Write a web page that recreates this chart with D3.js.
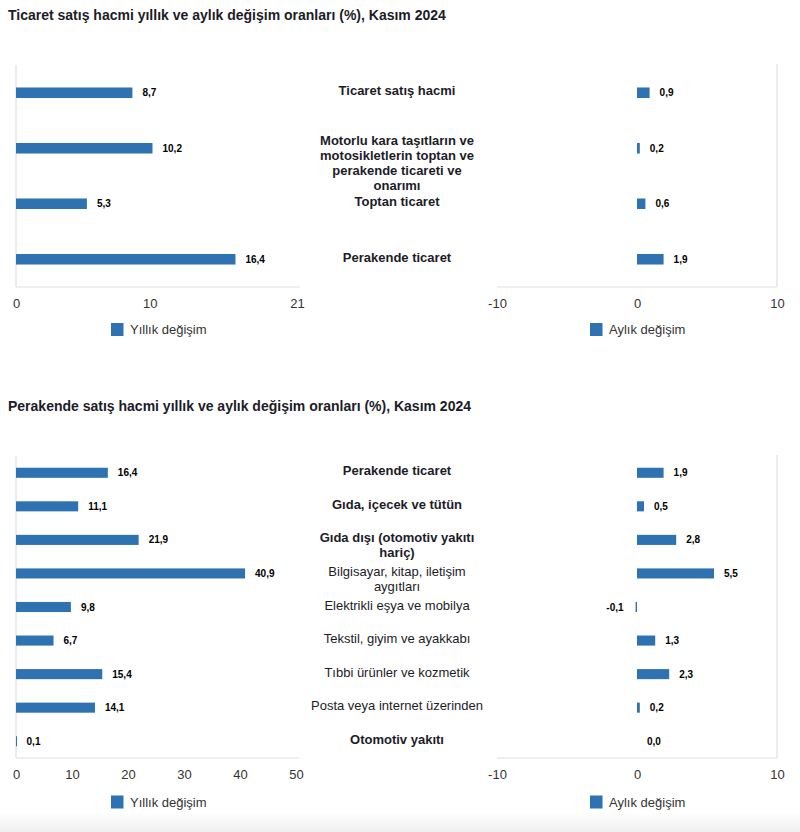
<!DOCTYPE html>
<html>
<head>
<meta charset="utf-8">
<script src="https://cdn.jsdelivr.net/npm/d3@7"></script>
<style>
  html, body { margin: 0; padding: 0; background: #fff; }
  svg { display: block; font-family: "Liberation Sans", Arial, Helvetica, sans-serif; }
</style>
</head>
<body>
<svg id="chart" width="800" height="832"></svg>
<script>
// ---------- DATA ----------
const tradeTitle = "Ticaret satış hacmi yıllık ve aylık değişim oranları (%), Kasım 2024";
const tradeCategories = [
  "Ticaret satış hacmi",
  "Motorlu kara taşıtların ve motosikletlerin toptan ve perakende ticareti ve onarımı",
  "Toptan ticaret",
  "Perakende ticaret"
];
const tradeAnnual = [8.7, 10.2, 5.3, 16.4];
const tradeMonthly = [0.9, 0.2, 0.6, 1.9];
const tradeAnnualTicks = [0, 10, 21];

const retailTitle = "Perakende satış hacmi yıllık ve aylık değişim oranları (%), Kasım 2024";
const retailCategories = [
  "Perakende ticaret",
  "Gıda, içecek ve tütün",
  "Gıda dışı (otomotiv yakıtı hariç)",
  "Bilgisayar, kitap, iletişim aygıtları",
  "Elektrikli eşya ve mobilya",
  "Tekstil, giyim ve ayakkabı",
  "Tıbbi ürünler ve kozmetik",
  "Posta veya internet üzerinden",
  "Otomotiv yakıtı"
];
const retailAnnual = [16.4, 11.1, 21.9, 40.9, 9.8, 6.7, 15.4, 14.1, 0.1];
const retailMonthly = [1.9, 0.5, 2.8, 5.5, -0.1, 1.3, 2.3, 0.2, 0.0];
const retailAnnualTicks = [0, 10, 20, 30, 40, 50];

const monthlyTicks = [-10, 0, 10];
const annualLegend = "Yıllık değişim";
const monthlyLegend = "Aylık değişim";

// ---------- STYLE ----------
const BAR = "#2e72b2";
const AXIS = "#e0e0e0";
const TEXT = "#1c1c28";
const boldRetail = new Set(["Perakende ticaret", "Gıda, içecek ve tütün", "Gıda dışı (otomotiv yakıtı hariç)", "Otomotiv yakıtı"]);

const svg = d3.select("#chart");
const locale = d3.formatLocale({ decimal: ",", thousands: ".", grouping: [3], currency: ["", ""], minus: "-" });
const fmt = locale.format(".1f");
const fmtInt = locale.format("d");

// bottom gradient strip
const defs = svg.append("defs");
const grad = defs.append("linearGradient").attr("id", "fade").attr("x1", 0).attr("y1", 0).attr("x2", 0).attr("y2", 1);
grad.append("stop").attr("offset", "0%").attr("stop-color", "#ffffff");
grad.append("stop").attr("offset", "100%").attr("stop-color", "#f0f0f0");
svg.append("rect").attr("x", 0).attr("y", 812).attr("width", 800).attr("height", 20).attr("fill", "url(#fade)");

function wrapWords(text, maxW, fontWeight) {
  const tmp = svg.append("text").attr("font-size", 13).attr("font-weight", fontWeight);
  const words = text.split(" ");
  const lines = [];
  let cur = "";
  words.forEach(w => {
    const test = cur ? cur + " " + w : w;
    tmp.text(test);
    if (tmp.node().getComputedTextLength() > maxW && cur) {
      lines.push(cur);
      cur = w;
    } else cur = test;
  });
  if (cur) lines.push(cur);
  tmp.remove();
  return lines;
}

function drawPanel(opt) {
  const { title, titleY, categories, annual, monthly, annualDomain, annualTicks,
          top, bottom, padIn, legendY, boldFn } = opt;

  svg.append("text").attr("x", 8).attr("y", titleY)
    .attr("font-size", 14).attr("font-weight", "bold").attr("fill", TEXT)
    .text(title);

  const y = d3.scaleBand().domain(categories).range([top, bottom])
    .paddingInner(padIn).paddingOuter(padIn / 2);

  const xL = d3.scaleLinear().domain(annualDomain).range([16, opt.leftEnd]);
  const xR = d3.scaleLinear().domain([-10, 10]).range([497, 777]);

  // axis lines
  svg.append("line").attr("x1", 16).attr("x2", 16).attr("y1", top).attr("y2", bottom)
    .attr("stroke", AXIS).attr("stroke-width", 1.2);
  svg.append("line").attr("x1", 16).attr("x2", opt.leftEnd + 3).attr("y1", bottom).attr("y2", bottom)
    .attr("stroke", AXIS).attr("stroke-width", 1.2);
  svg.append("line").attr("x1", 777).attr("x2", 777).attr("y1", top - 1).attr("y2", bottom)
    .attr("stroke", AXIS).attr("stroke-width", 1.2);
  svg.append("line").attr("x1", 497).attr("x2", 777).attr("y1", bottom).attr("y2", bottom)
    .attr("stroke", AXIS).attr("stroke-width", 1.2);

  // tick axes
  const axL = svg.append("g").attr("transform", `translate(0,${bottom})`)
    .call(d3.axisBottom(xL).tickValues(annualTicks).tickSize(0).tickPadding(12).tickFormat(fmtInt));
  const axR = svg.append("g").attr("transform", `translate(0,${bottom})`)
    .call(d3.axisBottom(xR).tickValues(monthlyTicks).tickSize(0).tickPadding(12).tickFormat(fmtInt));
  [axL, axR].forEach(ax => {
    ax.select(".domain").remove();
    ax.selectAll("text").attr("font-size", 13).attr("fill", "#333")
      .attr("font-family", "Liberation Sans, Arial, sans-serif");
  });

  // annual bars
  const bh = y.bandwidth();
  svg.append("g").selectAll("rect").data(categories).join("rect")
    .attr("x", xL(0)).attr("y", d => y(d))
    .attr("width", (d, i) => Math.max(1, xL(annual[i]) - xL(0)))
    .attr("height", bh).attr("fill", BAR);
  svg.append("g").selectAll("text").data(categories).join("text")
    .attr("x", (d, i) => xL(annual[i]) + 10)
    .attr("y", d => y(d) + bh / 2).attr("dy", "0.35em")
    .attr("font-size", 10).attr("font-weight", "bold").attr("fill", "#000")
    .text((d, i) => fmt(annual[i]));

  // monthly bars
  svg.append("g").selectAll("rect").data(categories).join("rect")
    .attr("x", (d, i) => Math.min(xR(0), xR(monthly[i])))
    .attr("y", d => y(d))
    .attr("width", (d, i) => Math.abs(xR(monthly[i]) - xR(0)))
    .attr("height", bh).attr("fill", BAR);
  svg.append("g").selectAll("text").data(categories).join("text")
    .attr("x", (d, i) => monthly[i] < 0 ? xR(monthly[i]) - 12 : xR(monthly[i]) + 10)
    .attr("text-anchor", (d, i) => monthly[i] < 0 ? "end" : "start")
    .attr("y", d => y(d) + bh / 2).attr("dy", "0.35em")
    .attr("font-size", 10).attr("font-weight", "bold").attr("fill", "#000")
    .text((d, i) => fmt(monthly[i]));

  // category labels in the middle
  categories.forEach(c => {
    const weight = boldFn(c) ? "bold" : "normal";
    const lines = wrapWords(c, 176, weight);
    const n = lines.length;
    const cy = y(c) + bh / 2 - 2 - Math.max(0, n - 2) * 3;
    const t = svg.append("text").attr("x", 397).attr("text-anchor", "middle")
      .attr("font-size", 13).attr("font-weight", weight).attr("fill", TEXT);
    lines.forEach((l, k) => {
      t.append("tspan").attr("x", 397).attr("y", cy + k * 15).attr("dy", "0.35em").text(l);
    });
  });

  // legends
  const legends = [[111, annualLegend], [590, monthlyLegend]];
  legends.forEach(([lx, label]) => {
    svg.append("rect").attr("x", lx).attr("y", legendY - 6.5).attr("width", 12.5).attr("height", 13).attr("fill", BAR);
    svg.append("text").attr("x", lx + 19).attr("y", legendY).attr("dy", "0.35em")
      .attr("font-size", 13).attr("fill", "#333").text(label);
  });
}

drawPanel({
  title: tradeTitle, titleY: 20,
  categories: tradeCategories, annual: tradeAnnual, monthly: tradeMonthly,
  annualDomain: [0, 21], annualTicks: tradeAnnualTicks, leftEnd: 297,
  top: 65, bottom: 287, padIn: 0.81, legendY: 329.5,
  boldFn: () => true
});

drawPanel({
  title: retailTitle, titleY: 411,
  categories: retailCategories, annual: retailAnnual, monthly: retailMonthly,
  annualDomain: [0, 50], annualTicks: retailAnnualTicks, leftEnd: 296,
  top: 456, bottom: 758, padIn: 0.70, legendY: 802,
  boldFn: c => boldRetail.has(c)
});
</script>
</body>
</html>
